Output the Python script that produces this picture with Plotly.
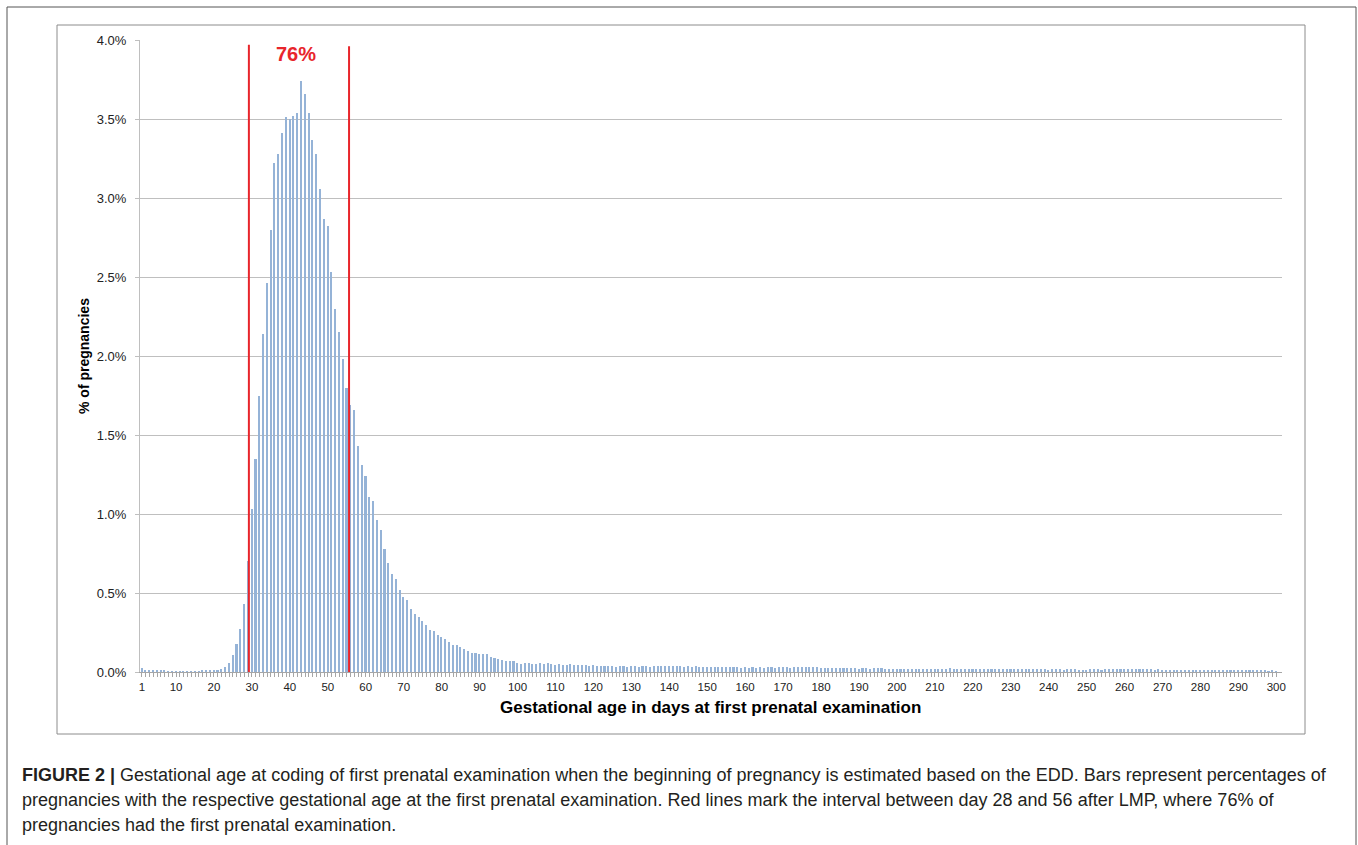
import plotly.graph_objects as go

# Gestational age (days) at the first prenatal examination
days = list(range(1, 301))

# Share of pregnancies (%) per gestational day
pct_days_1_27 = [0.027, 0.012, 0.012, 0.010, 0.008, 0.008, 0.008, 0.006, 0.004, 0.004,
                 0.003, 0.006, 0.005, 0.005, 0.005, 0.004, 0.007, 0.007, 0.010, 0.012,
                 0.012, 0.019, 0.033, 0.060, 0.107, 0.180, 0.270]
pct_days_28_105 = [0.43, 0.70, 1.03, 1.35, 1.75, 2.14, 2.46, 2.80, 3.22, 3.28,
                   3.41, 3.51, 3.50, 3.52, 3.54, 3.74, 3.66, 3.54, 3.37, 3.28,
                   3.06, 2.87, 2.82, 2.53, 2.30, 2.15, 1.98, 1.80, 1.69, 1.66,
                   1.43, 1.31, 1.24, 1.11, 1.08, 0.96, 0.90, 0.78, 0.69, 0.62,
                   0.59, 0.52, 0.475, 0.456, 0.40, 0.37, 0.346, 0.325, 0.297, 0.268,
                   0.26, 0.236, 0.22, 0.207, 0.19, 0.171, 0.171, 0.16, 0.144, 0.135,
                   0.122, 0.122, 0.114, 0.112, 0.114, 0.097, 0.089, 0.084, 0.076, 0.072,
                   0.068, 0.068, 0.057, 0.053, 0.055, 0.055, 0.049, 0.053]
pct_days_106_300 = [0.056, 0.050, 0.055, 0.048, 0.046, 0.050, 0.045, 0.044, 0.048, 0.046,
                    0.045, 0.043, 0.044, 0.040, 0.042,
                    0.037, 0.039, 0.036, 0.035, 0.036, 0.034, 0.037, 0.035, 0.034, 0.036,
                    0.035, 0.034, 0.036, 0.035, 0.034, 0.036, 0.037, 0.036, 0.038, 0.037,
                    0.038, 0.036, 0.035, 0.034, 0.036, 0.033, 0.035, 0.034, 0.032, 0.034,
                    0.031, 0.032, 0.030, 0.031, 0.030, 0.031, 0.029, 0.030, 0.028, 0.029,
                    0.027, 0.029, 0.028, 0.029, 0.028, 0.030, 0.029, 0.028, 0.030, 0.029,
                    0.030, 0.028, 0.031, 0.030, 0.029, 0.031, 0.030, 0.032, 0.029, 0.028,
                    0.027, 0.026, 0.028, 0.025, 0.026, 0.024, 0.025, 0.023, 0.024, 0.022,
                    0.023, 0.024, 0.022, 0.025, 0.024, 0.023, 0.021, 0.022, 0.020, 0.021,
                    0.020, 0.021, 0.019, 0.020, 0.021, 0.019, 0.018, 0.020, 0.019, 0.018,
                    0.019, 0.020, 0.021, 0.024, 0.019, 0.018, 0.017, 0.018, 0.017, 0.016,
                    0.017, 0.016, 0.018, 0.017, 0.016, 0.017, 0.018, 0.016, 0.017, 0.018,
                    0.019, 0.018, 0.017, 0.016, 0.017, 0.016, 0.018, 0.017, 0.016, 0.015,
                    0.016, 0.017, 0.016, 0.015, 0.016, 0.017, 0.016, 0.015, 0.014, 0.015,
                    0.016, 0.018, 0.017, 0.015, 0.016, 0.017, 0.018, 0.016, 0.017, 0.018,
                    0.019, 0.018, 0.017, 0.018, 0.016, 0.017, 0.018, 0.015, 0.016, 0.014,
                    0.013, 0.012, 0.013, 0.012, 0.011, 0.012, 0.011, 0.010, 0.011, 0.014,
                    0.010, 0.009, 0.010, 0.009, 0.008, 0.009, 0.008, 0.009, 0.008, 0.008,
                    0.008, 0.007, 0.008, 0.007, 0.008, 0.007, 0.007, 0.006, 0.007, 0.006]
pct = pct_days_1_27 + pct_days_28_105 + pct_days_106_300

x_tick_labels = [1] + list(range(10, 301, 10))
y_ticks = [0.0, 0.5, 1.0, 1.5, 2.0, 2.5, 3.0, 3.5, 4.0]

# Interval markers (day 28 to 56 after LMP) and the share inside it
interval_lines = [29.2, 55.6]
interval_tops = [3.97, 3.96]
interval_label = "76%"

W, H = 1358, 845
L, R, T, B = 140, 76, 40, 173
PW, PH = W - L - R, H - T - B


def px(xp):
    return (xp - L) / PW


def py(yp):
    return (H - B - yp) / PH


BAR = "#95B3D7"
RED = "#E8252B"
GRID = "#BFBFBF"
FONT = "Liberation Sans, Arial, sans-serif"

fig = go.Figure()
fig.add_trace(go.Bar(x=days, y=pct, width=0.42, marker=dict(color=BAR, line=dict(width=0)),
                     showlegend=False))

ticktext = [str(d) if d in x_tick_labels else "" for d in days]

fig.update_layout(
    width=W, height=H,
    margin=dict(l=L, r=R, t=T, b=B, pad=0),
    paper_bgcolor="white", plot_bgcolor="white",
    font=dict(family=FONT, color="#222222"),
    bargap=0,
    xaxis=dict(range=[0.5, 301.5], tickmode="array", tickvals=days, ticktext=ticktext,
               ticks="outside", ticklen=4, tickcolor="#A6A6A6", tickwidth=1,
               showline=True, linecolor="#A6A6A6", linewidth=1, showgrid=False,
               zeroline=False, tickfont=dict(size=11.5, color="#222222"),
               tickangle=0, fixedrange=True),
    yaxis=dict(range=[0, 4.0], tickmode="array", tickvals=y_ticks,
               ticktext=[f"{v:.1f}%" for v in y_ticks],
               ticks="outside", ticklen=4, tickcolor="#BFBFBF",
               showline=True, linecolor="#BFBFBF", linewidth=1,
               showgrid=True, gridcolor=GRID, gridwidth=1, zeroline=False,
               tickfont=dict(size=13, color="#222222"), ticklabelstandoff=6,
               fixedrange=True),
)

shapes = []
# chart area box and outer figure box
shapes.append(dict(type="rect", xref="paper", yref="paper",
                   x0=px(57), x1=px(1305), y0=py(734), y1=py(25),
                   line=dict(color="#8C8C8C", width=1), layer="below"))
shapes.append(dict(type="rect", xref="paper", yref="paper",
                   x0=px(7), x1=px(1356), y0=py(900), y1=py(7),
                   line=dict(color="#555555", width=1), layer="below"))
for xv, top in zip(interval_lines, interval_tops):
    shapes.append(dict(type="line", xref="x", yref="y", x0=xv, x1=xv, y0=0, y1=top,
                       line=dict(color=RED, width=2), layer="above"))
fig.update_layout(shapes=shapes)

annotations = [
    dict(text=f"<b>{interval_label}</b>", xref="x", yref="y",
         x=sum(interval_lines) / 2 - 0.8, y=3.91, showarrow=False,
         font=dict(size=20, color=RED, family=FONT)),
    dict(text="<b>Gestational age in days at first prenatal examination</b>",
         xref="paper", yref="paper", x=px(710), y=py(707), showarrow=False,
         xanchor="center", yanchor="middle", font=dict(size=17, color="#000000")),
    dict(text="<b>% of pregnancies</b>", xref="paper", yref="paper",
         x=px(84), y=py(356), showarrow=False, textangle=-90,
         xanchor="center", yanchor="middle", font=dict(size=14, color="#000000")),
]

caption_lines = [
    "<b>FIGURE 2 |</b> Gestational age at coding of first prenatal examination when the beginning of pregnancy is estimated based on the EDD. Bars represent percentages of",
    "pregnancies with the respective gestational age at the first prenatal examination. Red lines mark the interval between day 28 and 56 after LMP, where 76% of",
    "pregnancies had the first prenatal examination.",
]
for i, line in enumerate(caption_lines):
    annotations.append(dict(text=line, xref="paper", yref="paper",
                            x=px(20), y=py(775 + 25 * i), showarrow=False,
                            xanchor="left", yanchor="middle", align="left",
                            font=dict(size=18, color="#231F20", family=FONT)))
fig.update_layout(annotations=annotations)

fig.write_html("out.html")
